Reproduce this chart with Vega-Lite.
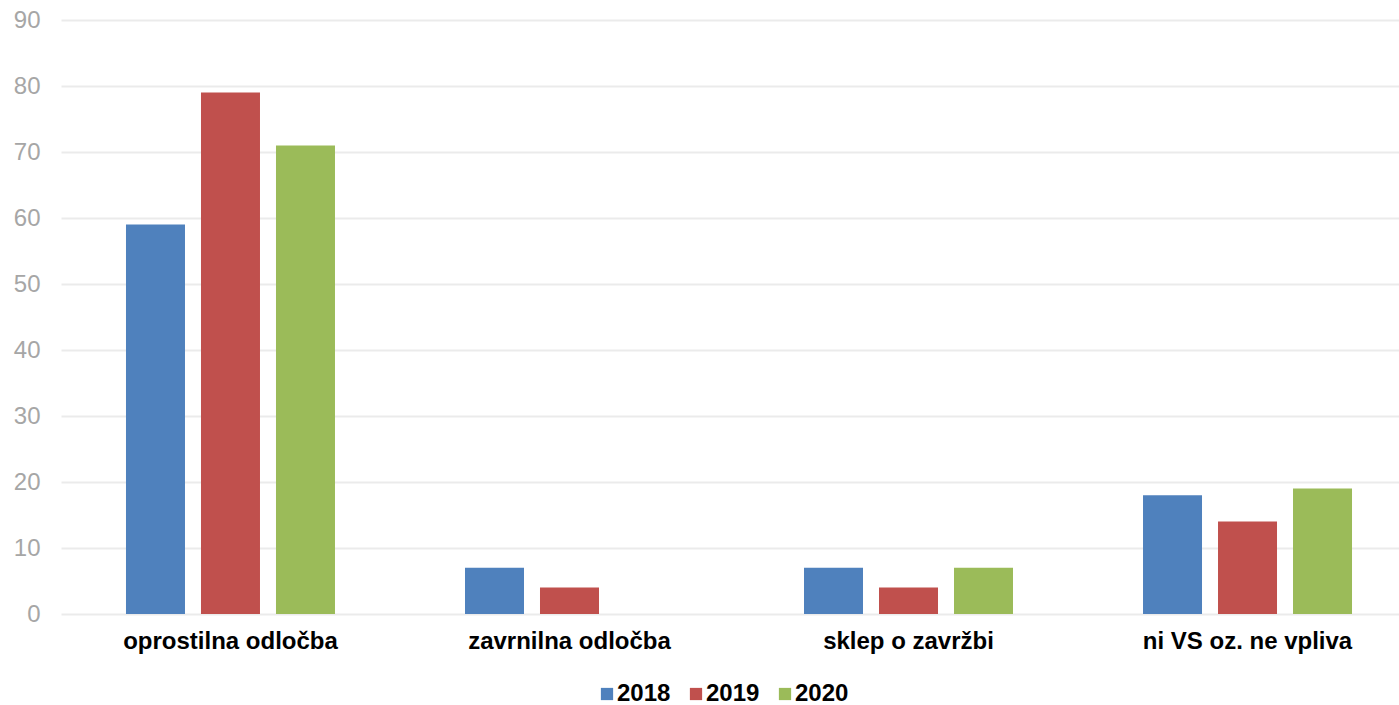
{
  "$schema": "https://vega.github.io/schema/vega-lite/v6.json",
  "width": 1338,
  "height": 594,
  "autosize": {"type": "none"},
  "padding": {"left": 61, "top": 20, "right": 0, "bottom": 91},
  "background": "white",
  "data": {"values": [
    {"cat": "oprostilna odločba", "year": "2018", "v": 59},
    {"cat": "oprostilna odločba", "year": "2019", "v": 79},
    {"cat": "oprostilna odločba", "year": "2020", "v": 71},
    {"cat": "zavrnilna odločba", "year": "2018", "v": 7},
    {"cat": "zavrnilna odločba", "year": "2019", "v": 4},
    {"cat": "zavrnilna odločba", "year": "2020", "v": 0},
    {"cat": "sklep o zavržbi", "year": "2018", "v": 7},
    {"cat": "sklep o zavržbi", "year": "2019", "v": 4},
    {"cat": "sklep o zavržbi", "year": "2020", "v": 7},
    {"cat": "ni VS oz. ne vpliva", "year": "2018", "v": 18},
    {"cat": "ni VS oz. ne vpliva", "year": "2019", "v": 14},
    {"cat": "ni VS oz. ne vpliva", "year": "2020", "v": 19}
  ]},
  "mark": {"type": "bar"},
  "encoding": {
    "x": {
      "field": "cat", "type": "nominal", "sort": null, "title": null,
      "scale": {"range": [0, 1356], "paddingInner": 0.3835, "paddingOuter": 0.1917},
      "axis": {"labelAngle": 0, "labelLimit": 0, "labelFont": "Liberation Sans", "labelFontSize": 24, "labelFontWeight": "bold", "labelColor": "#000000", "domain": false, "ticks": false, "labelPadding": 15}
    },
    "xOffset": {"field": "year", "type": "nominal", "scale": {"paddingInner": 0.2133, "paddingOuter": 0}},
    "y": {
      "field": "v", "type": "quantitative", "title": null,
      "scale": {"domain": [0, 90], "nice": false},
      "axis": {"values": [0,10,20,30,40,50,60,70,80,90], "labelFont": "Liberation Sans", "labelFontSize": 24, "labelColor": "#A6A6A6", "domain": false, "ticks": false, "labelPadding": 21, "gridColor": "#EBEBEB", "gridWidth": 2}
    },
    "color": {
      "field": "year", "type": "nominal", "title": null,
      "scale": {"domain": ["2018", "2019", "2020"], "range": ["#4F81BD", "#C0504D", "#9BBB59"]},
      "legend": {"orient": "none", "legendX": 534, "legendY": 662, "direction": "horizontal", "symbolType": "square", "symbolSize": 150, "symbolStrokeWidth": 0, "labelFont": "Liberation Sans", "labelFontSize": 24, "labelFontWeight": "bold", "labelColor": "#000000", "columnPadding": 13, "labelOffset": -2}
    }
  },
  "config": {"view": {"stroke": null}}
}
